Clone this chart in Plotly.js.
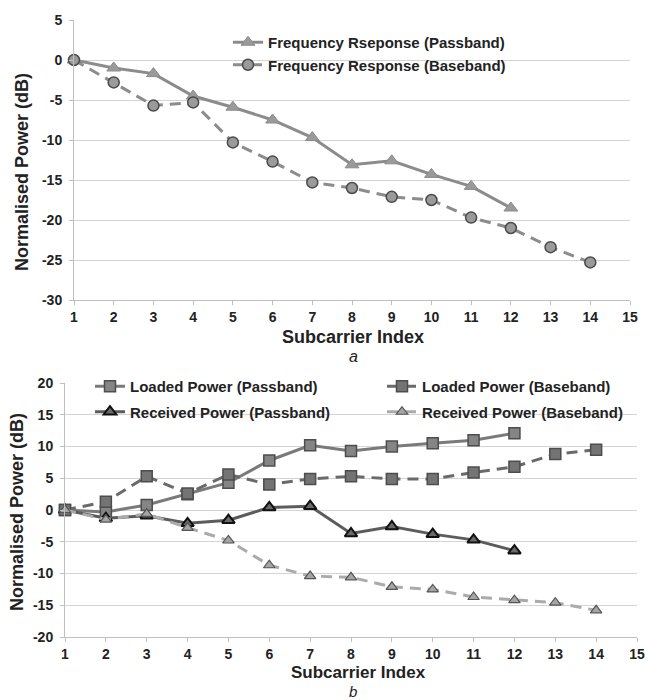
<!DOCTYPE html>
<html><head><meta charset="utf-8">
<script src="https://cdn.plot.ly/plotly-3.0.1.min.js"></script>
<style>body{margin:0;background:#fff}#g{width:649px;height:700px}</style>
</head><body><div id="g"></div>
<script>
// ---- data ----
const idxA_pass = [1,2,3,4,5,6,7,8,9,10,11,12];
const freqPass = [0,-1.0,-1.7,-4.5,-5.9,-7.5,-9.7,-13.1,-12.6,-14.3,-15.8,-18.5];
const idxA_base = [1,2,3,4,5,6,7,8,9,10,11,12,13,14];
const freqBase = [0,-2.8,-5.7,-5.3,-10.3,-12.7,-15.3,-16.0,-17.1,-17.5,-19.7,-21.0,-23.4,-25.3];

const idxB_pass = [1,2,3,4,5,6,7,8,9,10,11,12];
const loadedPass = [0,-0.3,0.8,2.5,4.3,7.8,10.2,9.3,10.0,10.5,11.0,12.1];
const recvPass = [0,-1.3,-0.9,-2.1,-1.6,0.4,0.6,-3.7,-2.6,-3.8,-4.7,-6.4];
const idxB_base = [1,2,3,4,5,6,7,8,9,10,11,12,13,14];
const loadedBase = [0,1.3,5.3,2.6,5.6,4.0,4.9,5.3,4.9,4.9,5.9,6.8,8.8,9.5];
const recvBase = [0,-1.5,-0.6,-2.8,-4.8,-8.7,-10.4,-10.6,-12.1,-12.5,-13.7,-14.2,-14.6,-15.8];

const xTicks = [1,2,3,4,5,6,7,8,9,10,11,12,13,14,15];
const yTicksA = [5,0,-5,-10,-15,-20,-25,-30];
const yTicksB = [20,15,10,5,0,-5,-10,-15,-20];
const xTickText = ['1','2','3','4','5','6','7','8','9','10','11','12','13','14','15'];
const yTickTextA = ['5','0','-5','-10','-15','-20','-25','-30'];
const yTickTextB = ['20','15','10','5','0','-5','-10','-15','-20'];

const nameA1 = 'Frequency Rseponse (Passband)';
const nameA2 = 'Frequency Response (Baseband)';
const nameB1 = 'Loaded Power (Passband)';
const nameB2 = 'Loaded Power (Baseband)';
const nameB3 = 'Received Power (Passband)';
const nameB4 = 'Received Power (Baseband)';

// ---- layout helpers ----
const W = 649, H = 700;
const px = v => v / W;
const py = v => 1 - v / H;
const NARROW = '"Liberation Sans Narrow", "Liberation Sans", Arial, sans-serif';
const SANS = '"Liberation Sans", Arial, sans-serif';
const DASH = '11px,7px';
const bold = arr => arr.map(s => '<b>' + s + '</b>');

const traces = [
  {x: idxA_pass, y: freqPass, name: nameA1, xaxis: 'x', yaxis: 'y', legend: 'legend', legendgroup: 'a1',
   mode: 'lines+markers', cliponaxis: false,
   line: {color: '#8c8c8c', width: 3},
   marker: {symbol: 'triangle-up', size: 12, color: '#9a9a9a', line: {color: '#8a8a8a', width: 1}}},
  {x: idxA_base, y: freqBase, name: nameA2, xaxis: 'x', yaxis: 'y', legend: 'legend', legendgroup: 'a2',
   mode: 'lines+markers', cliponaxis: false,
   line: {color: '#8c8c8c', width: 3, dash: DASH},
   marker: {symbol: 'circle', size: 11, color: '#9a9a9a', line: {color: '#4a4a4a', width: 1.5}}},

  {x: idxB_pass, y: loadedPass, name: nameB1, xaxis: 'x2', yaxis: 'y2', legend: 'legend2', legendgroup: 'g1',
   mode: 'lines+markers', cliponaxis: false,
   line: {color: '#7a7a7a', width: 3},
   marker: {symbol: 'square', size: 11, color: '#858585', line: {color: '#4d4d4d', width: 1.5}}},
  {x: idxB_pass, y: recvPass, name: nameB3, xaxis: 'x2', yaxis: 'y2', legend: 'legend2', legendgroup: 'g2',
   mode: 'lines+markers', cliponaxis: false,
   line: {color: '#5c5c5c', width: 3},
   marker: {symbol: 'triangle-up', size: 11, color: '#6a6a6a', line: {color: '#111111', width: 2}}},
  {x: idxB_base, y: loadedBase, name: nameB2, xaxis: 'x2', yaxis: 'y2', legend: 'legend3', legendgroup: 'g3',
   mode: 'lines+markers', cliponaxis: false,
   line: {color: '#6a6a6a', width: 3, dash: DASH},
   marker: {symbol: 'square', size: 11, color: '#747474', line: {color: '#4d4d4d', width: 1.5}}},
  {x: idxB_base, y: recvBase, name: nameB4, xaxis: 'x2', yaxis: 'y2', legend: 'legend3', legendgroup: 'g4',
   mode: 'lines+markers', cliponaxis: false,
   line: {color: '#ababab', width: 3, dash: DASH},
   marker: {symbol: 'triangle-up', size: 10, color: '#a5a5a5', line: {color: '#555555', width: 1.2}}}
];

const tickFont = {family: NARROW, size: 14, color: '#222'};
const axCommon = {
  showline: true, linecolor: '#bfbfbf', linewidth: 1,
  ticks: 'outside', ticklen: 4, tickcolor: '#bfbfbf', tickmode: 'array',
  tickfont: tickFont, zeroline: false, automargin: false, fixedrange: true
};

const legFont = {family: SANS, size: 15, color: '#222', weight: 'bold'};

const layout = {
  width: W, height: H,
  margin: {l: 0, r: 0, t: 0, b: 0},
  paper_bgcolor: '#fff', plot_bgcolor: '#fff',
  font: {family: NARROW},
  xaxis: Object.assign({}, axCommon, {domain: [px(74), px(630)], range: [1, 15],
    tickvals: xTicks, ticktext: bold(xTickText), showgrid: false, anchor: 'y'}),
  yaxis: Object.assign({}, axCommon, {domain: [py(300), py(20)], range: [-30, 5],
    tickvals: yTicksA, ticktext: bold(yTickTextA),
    showgrid: true, gridcolor: '#d4d4d4', anchor: 'x', ticklabelstandoff: 4}),
  xaxis2: Object.assign({}, axCommon, {domain: [px(65), px(637)], range: [1, 15],
    tickvals: xTicks, ticktext: bold(xTickText), showgrid: false, anchor: 'y2'}),
  yaxis2: Object.assign({}, axCommon, {domain: [py(637), py(383)], range: [-20, 20],
    tickvals: yTicksB, ticktext: bold(yTickTextB),
    showgrid: true, gridcolor: '#d4d4d4', anchor: 'x2', ticklabelstandoff: 4}),
  legend: {x: px(228), y: py(26), xanchor: 'left', yanchor: 'top', bgcolor: 'rgba(255,255,255,0)',
    font: legFont, itemwidth: 30, traceorder: 'grouped', tracegroupgap: 0, borderwidth: 0},
  legend2: {x: px(90), y: py(370), xanchor: 'left', yanchor: 'top', bgcolor: 'rgba(255,255,255,0)',
    font: legFont, itemwidth: 30, traceorder: 'grouped', tracegroupgap: 3},
  legend3: {x: px(382), y: py(370), xanchor: 'left', yanchor: 'top', bgcolor: 'rgba(255,255,255,0)',
    font: legFont, itemwidth: 30, traceorder: 'grouped', tracegroupgap: 3},
  showlegend: true,
  shapes: [
    {type: 'rect', xref: 'paper', yref: 'paper', layer: 'between',
     x0: px(187), x1: px(550), y0: py(88), y1: py(26),
     fillcolor: '#ffffff', line: {width: 0}},
    {type: 'rect', xref: 'paper', yref: 'paper', layer: 'between',
     x0: px(92), x1: px(628), y0: py(424), y1: py(378),
     fillcolor: '#ffffff', line: {width: 0}}
  ],
  annotations: [
    {text: '<b>Normalised Power (dB)</b>', xref: 'paper', yref: 'paper', x: px(22), y: py(172),
     xanchor: 'center', yanchor: 'middle',
     textangle: -90, showarrow: false, font: {family: NARROW, size: 18, color: '#222'}},
    {text: '<b>Subcarrier Index</b>', xref: 'paper', yref: 'paper', x: px(353), y: py(337),
     xanchor: 'center', yanchor: 'middle',
     showarrow: false, font: {family: NARROW, size: 18, color: '#222'}},
    {text: '<i>a</i>', xref: 'paper', yref: 'paper', x: px(353), y: py(356),
     xanchor: 'center', yanchor: 'middle',
     showarrow: false, font: {family: SANS, size: 16, color: '#222'}},
    {text: '<b>Normalised Power (dB)</b>', xref: 'paper', yref: 'paper', x: px(17), y: py(512),
     xanchor: 'center', yanchor: 'middle',
     textangle: -90, showarrow: false, font: {family: NARROW, size: 18, color: '#222'}},
    {text: '<b>Subcarrier Index</b>', xref: 'paper', yref: 'paper', x: px(358), y: py(672),
     xanchor: 'center', yanchor: 'middle', borderpad: 0,
     showarrow: false, font: {family: NARROW, size: 17, color: '#222'}},
    {text: '<i>b</i>', xref: 'paper', yref: 'paper', x: px(353), y: py(691),
     xanchor: 'center', yanchor: 'middle', borderpad: 0,
     showarrow: false, font: {family: SANS, size: 15, color: '#222'}}
  ]
};

Plotly.newPlot('g', traces, layout, {staticPlot: true, displayModeBar: false});
</script>
</body></html>
